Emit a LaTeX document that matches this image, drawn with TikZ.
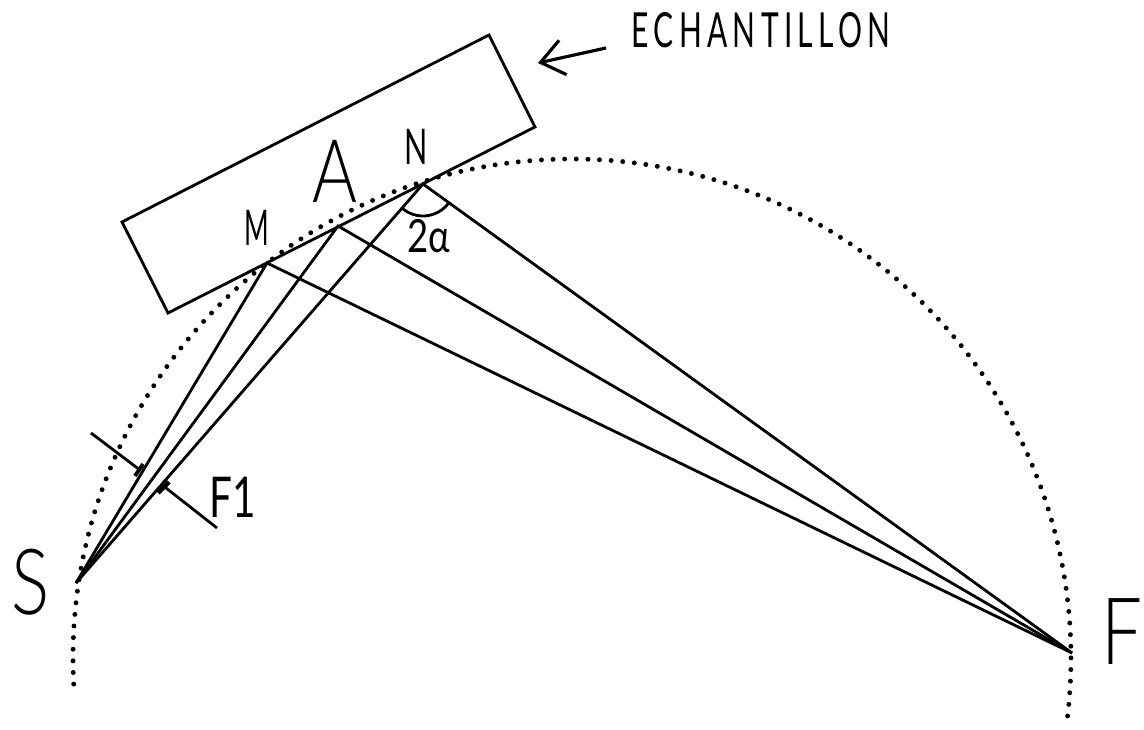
\documentclass[tikz,border=0pt]{standalone}
\usepackage{fontspec}
\usetikzlibrary{arrows.meta}
\newfontfamily\thinfont[FakeStretch=0.78]{Lato Light}
\newfontfamily\stdfont[FakeStretch=0.62,LetterSpace=11]{Lato}
\newfontfamily\smallfont[FakeStretch=0.8]{Lato}
\newfontfamily\narrowfont[FakeStretch=0.62]{Lato}
\newfontfamily\emfont[FakeStretch=0.54]{Lato}
\newfontfamily\fonefont[FakeStretch=0.72]{Lato}
\begin{document}
\begin{tikzpicture}[x=0.2mm,y=0.2mm,
	beam/.style={line width=1.6pt,black},
	lbl/.style={inner sep=0pt,anchor=base,text=black}]
	\useasboundingbox (0,0) rectangle (1144,730);
	\coordinate (O) at (572,72);
	\coordinate (S) at (76,147);
	\coordinate (F) at (1072,77);
	\coordinate (M) at (267,467);
	\coordinate (A) at (338,504);
	\coordinate (N) at (423,546);
	\draw[line width=2.8pt,line cap=round,dash pattern=on 0pt off 6.62pt] (O) ++(183:499) arc[start angle=183,end angle=-7.4,radius=499];
	\draw[beam] (122,508) -- (489,695) -- (535,603) -- (168,417) -- cycle;
	\draw[beam] (S) -- (M) -- (F);
	\draw[beam] (S) -- (A) -- (F);
	\draw[beam] (S) -- (N) -- (F);
	\draw[beam] (N) ++(229:32) arc[start angle=229,end angle=324,radius=32];
	\draw[beam] (91,297) -- (140,260);
	\draw[line width=2.2pt] (143,266) -- (135,254);
	\draw[beam] (217,202) -- (166,242);
	\draw[line width=2.6pt] (169,248) -- (158,237);
	\coordinate (tail) at (606,682);
	\coordinate (tip) at (538,667);
	\draw[line width=1.8pt,-{Straight Barb[length=13pt,width=20pt]}] (tail) -- (tip);
	\node[lbl] (nS) at (31,115) {\thinfont\fontsize{52}{52}\selectfont S};
	\node[lbl] (nA) at (335,527) {\thinfont\fontsize{50}{50}\selectfont A};
	\node[lbl] (nF) at (1122,65) {\thinfont\fontsize{53}{53}\selectfont F};
	\node[lbl] (nFa) at (233,212) {\fonefont\fontsize{32}{32}\selectfont F1};
	\node[lbl] (nM) at (257,484) {\emfont\fontsize{28}{28}\selectfont M};
	\node[lbl] (nN) at (416,565) {\narrowfont\fontsize{28}{28}\selectfont N};
	\node[lbl] (nalpha) at (429,477) {\smallfont\fontsize{26}{26}\selectfont 2α};
	\node[lbl] (title) at (761,682) {\stdfont\fontsize{27.5}{27.5}\selectfont ECHANTILLON};
\end{tikzpicture}
\end{document}
